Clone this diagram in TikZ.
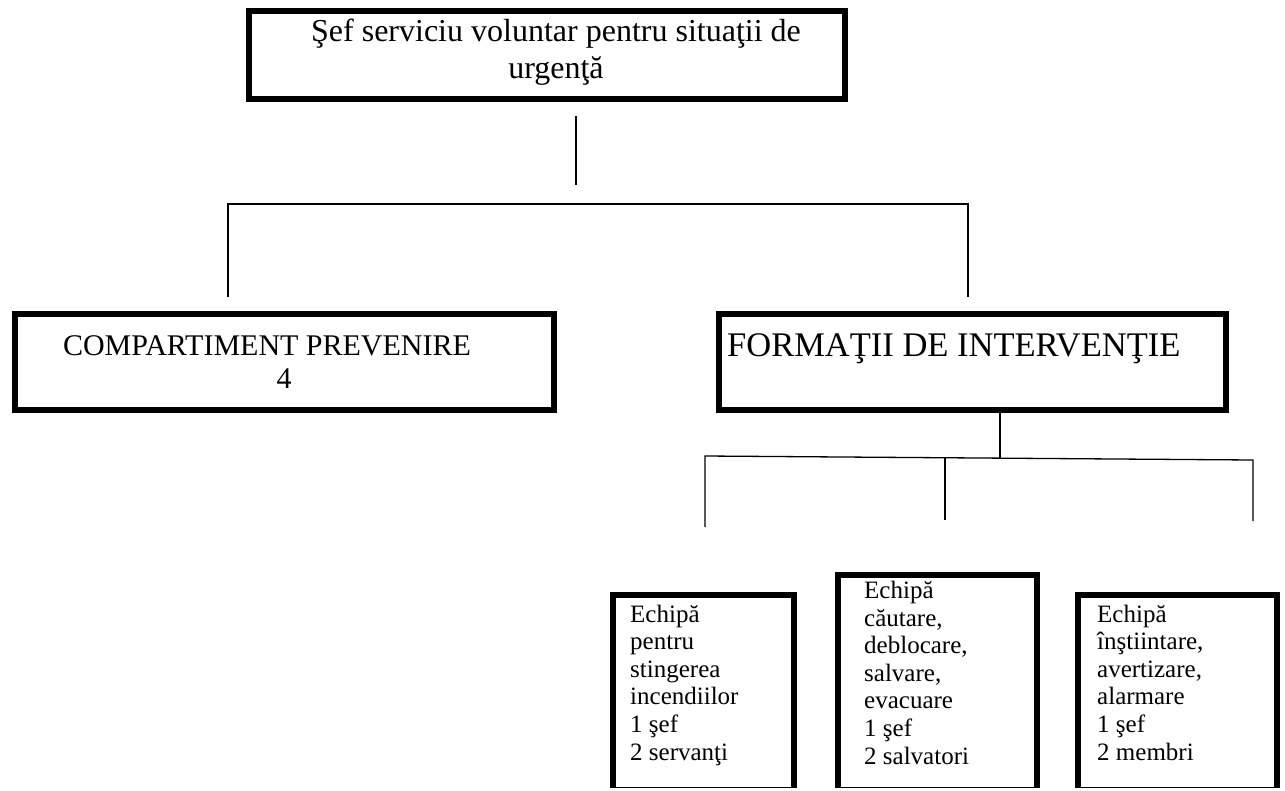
\documentclass[tikz,border=0pt]{standalone}
\usepackage{fontspec}
\setmainfont{Liberation Serif}
\begin{document}
\begin{tikzpicture}[x=1pt,y=-1pt,
  box/.style={draw=black, line width=6pt, rectangle, inner sep=0pt},
  obox/.style={draw=none, rectangle, inner sep=0pt},
  border/.style={draw=black, line width=6pt},
  bottomline/.style={draw=black, line width=1.2pt},
  conn/.style={draw=black, line width=1.3pt},
  toptext/.style={inner sep=0pt, align=center, font=\fontsize{32}{37}\selectfont},
  midtext/.style={inner sep=0pt, align=center, font=\fontsize{30}{33}\selectfont},
  formtext/.style={inner sep=0pt, font=\fontsize{34.5}{36}\selectfont},
  smalltext/.style={inner sep=0pt, align=left, font=\fontsize{25}{27.6}\selectfont}]
\useasboundingbox (0,0) rectangle (1285,790);

% top box
\node[box, minimum width=596pt, minimum height=88pt] (sef) at (547,55) {};
\node[toptext, anchor=base] (sefT) at (556,78) {Şef serviciu voluntar pentru situaţii de\\urgenţă};

% second level boxes
\node[box, minimum width=539pt, minimum height=96pt] (comp) at (284.5,362) {};
\node[midtext, anchor=base] (compT) at (267,388) {COMPARTIMENT PREVENIRE\\\hspace*{34pt}4};

\node[box, minimum width=507pt, minimum height=96pt] (form) at (972.5,362) {};
\node[formtext, anchor=base west] (formT) at (727,356) {FORMAŢII DE INTERVENŢIE};

% third level boxes (open at bottom edge)
\node[obox, minimum width=181pt, minimum height=193pt] (e1) at (703.5,691.5) {};
\node[obox, minimum width=199pt, minimum height=213pt] (e2) at (937.5,681.5) {};
\node[obox, minimum width=199pt, minimum height=193pt] (e3) at (1177.5,691.5) {};
\foreach \b in {e1,e2,e3}{
  \draw[border] (\b.south west) -- (\b.north west) -- (\b.north east) -- (\b.south east);
  \draw[bottomline] ([xshift=-3pt,yshift=0.6pt]\b.south west) -- ([xshift=3pt,yshift=0.6pt]\b.south east);
}
\node[smalltext, anchor=base west] (e1T) at (630,760) {Echipă\\pentru\\stingerea\\incendiilor\\1 şef\\2 servanţi};
\node[smalltext, anchor=base west] (e2T) at (864,764) {Echipă\\căutare,\\deblocare,\\salvare,\\evacuare\\1 şef\\2 salvatori};
\node[smalltext, anchor=base west] (e3T) at (1097,760) {Echipă\\înştiintare,\\avertizare,\\alarmare\\1 şef\\2 membri};

% connectors, upper tree
\coordinate (s1) at (576,116);
\coordinate (s2) at (576,185);
\coordinate (hL) at (228,204);
\coordinate (hR) at (968,204);
\coordinate (vL) at (228,297);
\coordinate (vR) at (968,297);
\draw[conn] (s1) -- (s2);
\draw[conn] (vL) -- (hL) -- (hR) -- (vR);

% connectors, lower tree
\coordinate (f1) at (1000,413);
\coordinate (f2) at (1000,458);
\coordinate (gL) at (705,456);
\coordinate (gM) at (945,458);
\coordinate (gR) at (1253,460);
\coordinate (wL) at (705,527);
\coordinate (wM) at (945,520);
\coordinate (wR) at (1253,521);
\draw[conn] (f1) -- (f2);
\draw[conn] (wL) -- (gL) -- (gR) -- (wR);
\draw[conn] (gM) -- (wM);
\end{tikzpicture}
\end{document}
